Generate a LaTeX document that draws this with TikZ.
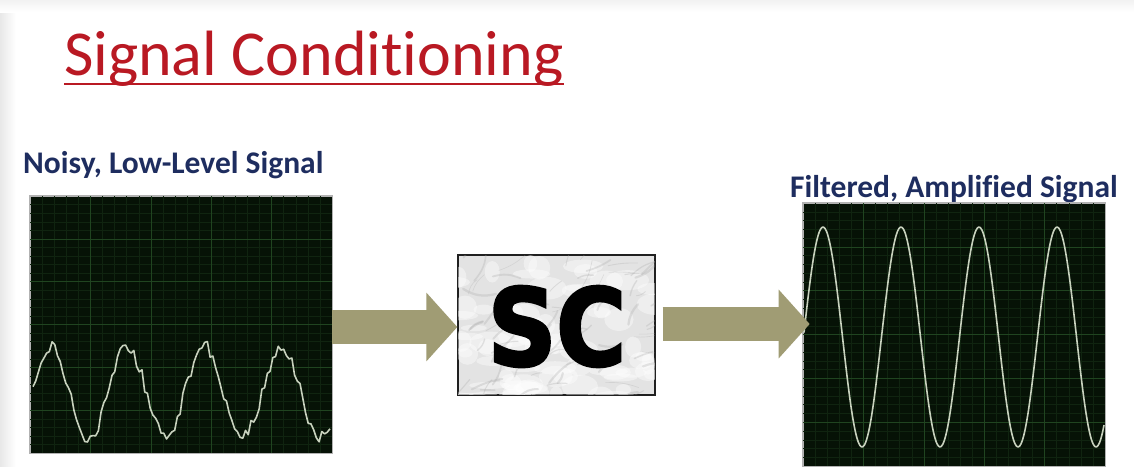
\documentclass[tikz,border=0pt]{standalone}
\usepackage{fontspec}
\setmainfont{Carlito}[Ligatures=NoCommon]
\newfontfamily\scfont{DejaVu Sans}[BoldFeatures={FakeBold=3}]
\usetikzlibrary{arrows.meta}
\definecolor{titlered}{RGB}{185,25,35}
\definecolor{navy}{RGB}{30,45,95}
\definecolor{scopebg}{RGB}{6,18,6}
\definecolor{gridmaj}{RGB}{32,68,32}
\definecolor{gridmin}{RGB}{16,36,16}
\definecolor{sigcol}{RGB}{200,210,190}
\definecolor{arrowcol}{RGB}{160,156,116}
\tikzset{
  scopebox/.style={draw=gray!60, line width=0.6pt, fill=scopebg, inner sep=0pt},
  major/.style={gridmaj, line width=0.6pt},
  minor/.style={gridmin, line width=0.4pt},
  sig/.style={sigcol, line width=1.6pt, line join=round},
  label/.style={text=navy, font=\bfseries\fontsize{31.5}{34}\selectfont, inner sep=0pt, anchor=base west},
  bigarrow/.style={arrowcol, line width=34pt, -{Triangle[width=67pt,length=31pt]}},
  scbox/.style={draw=gray!25!black, line width=1.3pt, fill=gray!22, inner sep=0pt, minimum width=197pt, minimum height=140pt}
}
\begin{document}
\begin{tikzpicture}[x=1pt,y=-1pt]
\useasboundingbox (0,0) rectangle (1134,466);
\fill[white] (0,0) rectangle (1134,466);
\shade[left color=gray!18, right color=white] (0,0) rectangle (16,466);
\shade[top color=gray!10, bottom color=white] (0,0) rectangle (1134,12);

% title
\node[text=titlered, font=\fontsize{64}{70}\selectfont, inner sep=0pt, anchor=base west] (title) at (64,75) {Signal Conditioning};
\draw[titlered, line width=2pt] ([yshift=-8.5pt]title.base west) -- ([yshift=-8.5pt]title.base east);

% labels
\node[label] (lblL) at (23,173) {Noisy, Low-Level Signal};
\node[label] (lblR) at (790,197) {Filtered, Amplified Signal};

% left scope
\node[scopebox, minimum width=302pt, minimum height=257pt] (scopeL) at (181,324.5) {};
\foreach \i in {1,...,24} \draw[minor] ({30+\i*302/25},196) -- ({30+\i*302/25},453);
\foreach \i in {1,...,29} \draw[minor] (30,{196+\i*257/30}) -- (332,{196+\i*257/30});
\foreach \i in {1,...,4} \draw[major] ({30+\i*302/5},196) -- ({30+\i*302/5},453);
\foreach \i in {1,...,5} \draw[major] (30,{196+\i*257/6}) -- (332,{196+\i*257/6});
\pgfmathsetseed{41}
\draw[sig] plot[domain=33:330, samples=110, variable=\t] (\t, {392 - 45*sin((\t-31)*4.675) + 7*rand});
\draw[draw=gray!60, line width=0.6pt] (scopeL.north west) rectangle (scopeL.south east);

% right scope
\node[scopebox, minimum width=302pt, minimum height=263pt] (scopeR) at (954,334.5) {};
\foreach \i in {1,...,24} \draw[minor] ({803+\i*302/25},203) -- ({803+\i*302/25},466);
\foreach \i in {1,...,29} \draw[minor] (803,{203+\i*263/30}) -- (1105,{203+\i*263/30});
\foreach \i in {1,...,4} \draw[major] ({803+\i*302/5},203) -- ({803+\i*302/5},466);
\foreach \i in {1,...,5} \draw[major] (803,{203+\i*263/6}) -- (1105,{203+\i*263/6});
\draw[sig] plot[domain=804:1104, samples=200, smooth, variable=\t] (\t, {337 - 110*sin((\t-803.5)*4.615)});
\draw[draw=gray!60, line width=0.6pt] (scopeR.north west) rectangle (scopeR.south east);

% SC box
\node[scbox] (sc) at (556.5,325) {};
\begin{scope}
\clip (sc.south west) rectangle (sc.north east);
\pgfmathsetseed{12}
\foreach \k in {1,...,80}{
  \pgfmathsetmacro\xa{450+210*rnd}
  \pgfmathsetmacro\ya{250+150*rnd}
  \pgfmathsetmacro\rx{6+16*rnd}
  \pgfmathsetmacro\ry{3+9*rnd}
  \fill[white, opacity=0.4] (\xa,\ya) ellipse [x radius=\rx, y radius=\ry];
}
\foreach \k in {1,...,90}{
  \pgfmathsetmacro\xa{450+210*rnd}
  \pgfmathsetmacro\ya{250+150*rnd}
  \pgfmathsetmacro\ang{-30+40*rand}
  \pgfmathsetmacro\len{8+26*rnd}
  \pgfmathsetmacro\lw{0.5+1.8*rnd}
  \pgfmathsetmacro\bend{25*rand}
  \draw[gray!70, opacity=0.28, line width=\lw pt, line cap=round] (\xa,\ya) to[bend left=\bend] ++(\ang:\len);
}
\end{scope}
\node[inner sep=0pt] (sctext) at (557,326.5) {\resizebox{138pt}{79pt}{\scfont\bfseries SC}};
\draw[gray!25!black, line width=1.3pt] (sc.north west) rectangle (sc.south east);

% arrows
\draw[bigarrow] (scopeL.east |- 0,327) -- (sc.west |- 0,327);
\draw[bigarrow] ([xshift=7pt]sc.east |- 0,324) -- ([xshift=7pt]scopeR.west |- 0,324);
\end{tikzpicture}
\end{document}
